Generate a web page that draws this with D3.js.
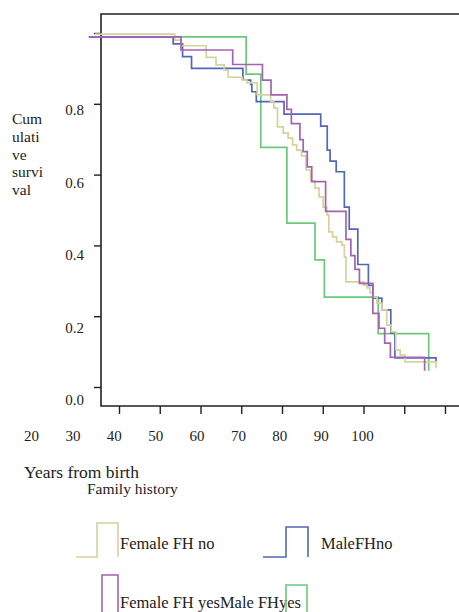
<!DOCTYPE html>
<html>
<head>
<meta charset="utf-8">
<title>Survival</title>
<script src="https://cdn.jsdelivr.net/npm/d3@7"></script>
<style>
  body { margin: 0; background: #fff; }
  svg text { font-family: "Liberation Serif", serif; fill: #222; }
</style>
</head>
<body>
<svg id="chart" width="459" height="612"></svg>
<script>
// data: time (years) and cumulative survival per group
var femaleNoTime = [34.1, 53.7, 55.2, 61.4, 63.8, 65.8, 66.8, 70.2, 71.4, 73.9, 77.2, 78.0, 78.9, 80.3, 81.5, 82.6, 83.6, 84.8, 85.9, 87.0, 88.1, 89.1, 90.1, 91.0, 91.5, 92.4, 93.4, 94.7, 95.3, 95.7, 100.0, 100.8, 101.6, 102.3, 103.3, 104.5, 105.7, 106.8, 107.9, 109.0, 110.2, 117.8];
var femaleNoSurv = [0.997, 0.980, 0.964, 0.931, 0.910, 0.895, 0.875, 0.867, 0.859, 0.825, 0.806, 0.788, 0.735, 0.717, 0.703, 0.684, 0.669, 0.653, 0.613, 0.582, 0.562, 0.537, 0.508, 0.486, 0.438, 0.424, 0.410, 0.401, 0.367, 0.297, 0.288, 0.280, 0.266, 0.254, 0.237, 0.218, 0.175, 0.156, 0.105, 0.090, 0.071, 0.053];

var maleNoTime = [32.6, 53.3, 55.6, 57.8, 70.4, 72.3, 72.6, 73.7, 80.5, 89.5, 91.1, 91.8, 93.3, 95.3, 96.5, 98.6, 101.2, 102.3, 104.5, 106.7, 107.7, 117.8];
var maleNoSurv = [0.989, 0.969, 0.933, 0.900, 0.867, 0.855, 0.834, 0.806, 0.771, 0.737, 0.669, 0.638, 0.608, 0.508, 0.446, 0.346, 0.287, 0.251, 0.218, 0.152, 0.082, 0.071];

var femaleYesTime = [32.6, 55.2, 67.9, 75.2, 77.3, 81.2, 82.3, 84.4, 85.2, 86.2, 87.3, 90.7, 95.7, 96.9, 97.9, 99.0, 102.3, 103.8, 105.2, 106.6, 115.0];
var femaleYesSurv = [0.989, 0.952, 0.911, 0.867, 0.825, 0.784, 0.744, 0.699, 0.665, 0.622, 0.580, 0.496, 0.417, 0.371, 0.332, 0.293, 0.208, 0.166, 0.124, 0.084, 0.046];

var maleYesTime = [32.6, 71.2, 74.8, 81.2, 88.1, 90.4, 103.6, 116.0];
var maleYesSurv = [0.989, 0.884, 0.677, 0.463, 0.359, 0.254, 0.151, 0.046];

var xTickValues = [40, 50, 60, 70, 80, 90, 100, 110, 120];
var xTickLabels = [20, 30, 40, 50, 60, 70, 80, 90, 100];
var yTickValues = [0, 0.2, 0.4, 0.6, 0.8, 1.0];
var yTickLabels = [0, 0.2, 0.4, 0.6, 0.8];

var series = [
  {name: "Male FHyes", time: maleYesTime, surv: maleYesSurv, color: "#6cc879"},
  {name: "MaleFHno", time: maleNoTime, surv: maleNoSurv, color: "#5367b7"},
  {name: "Female FH no", time: femaleNoTime, surv: femaleNoSurv, color: "#d6d29c"},
  {name: "Female FH yes", time: femaleYesTime, surv: femaleYesSurv, color: "#a562b2"}
];

var svg = d3.select("#chart");
var plotLeft = 101, plotTop = 14, plotBottom = 406;

var x = d3.scaleLinear().domain([40, 120]).range([119, 445]);
var y = d3.scaleLinear().domain([0, 1]).range([387, 33]);
// the tick labels in the picture sit on their own, shifted spacing
var xLab = d3.scaleLinear().domain([20, 100]).range([31.5, 362.5]);
var yLab = d3.scaleLinear().domain([0, 0.8]).range([405, 115]);

// frame (open on the right)
svg.append("path")
  .attr("d", "M459," + plotTop + "H" + plotLeft + "V" + plotBottom + "H459")
  .attr("fill", "none").attr("stroke", "#222").attr("stroke-width", 1.6);

// x ticks
svg.append("g")
  .attr("transform", "translate(0," + plotBottom + ")")
  .call(d3.axisBottom(x).tickValues(xTickValues).tickSize(8).tickFormat(""))
  .call(function(g) { g.select(".domain").remove(); })
  .selectAll("line").attr("stroke", "#222").attr("stroke-width", 1.4);

// y ticks
svg.append("g")
  .attr("transform", "translate(" + plotLeft + ",0)")
  .call(d3.axisLeft(y).tickValues(yTickValues).tickSize(7).tickFormat(""))
  .call(function(g) { g.select(".domain").remove(); })
  .selectAll("line").attr("stroke", "#222").attr("stroke-width", 1.4);

svg.append("g").selectAll("text")
  .data(xTickLabels)
  .enter().append("text")
  .attr("x", function(d) { return xLab(d); })
  .attr("y", 441)
  .attr("text-anchor", "middle")
  .attr("font-size", 15)
  .text(function(d) { return d; });

svg.append("g").selectAll("text")
  .data(yTickLabels)
  .enter().append("text")
  .attr("x", 84)
  .attr("y", function(d) { return yLab(d); })
  .attr("text-anchor", "end")
  .attr("font-size", 15)
  .text(function(d) { return d.toFixed(1); });

// y title, broken over lines like the original
var yTitle = ["Cum", "ulati", "ve", "survi", "val"];
svg.append("g").selectAll("text")
  .data(yTitle)
  .enter().append("text")
  .attr("x", 12)
  .attr("y", function(d, i) { return 124 + i * 17.8; })
  .attr("font-size", 15.5)
  .text(function(d) { return d; });

svg.append("text").attr("x", 24).attr("y", 478).attr("font-size", 17.5).text("Years from birth");
svg.append("text").attr("x", 87).attr("y", 494).attr("font-size", 15.5).text("Family history");

// survival step curves
var line = d3.line()
  .curve(d3.curveStepAfter)
  .x(function(d) { return x(d[0]); })
  .y(function(d) { return y(d[1]); });

series.forEach(function(s) {
  svg.append("path")
    .datum(d3.zip(s.time, s.surv))
    .attr("fill", "none")
    .attr("stroke", s.color)
    .attr("stroke-width", 1.7)
    .attr("d", line);
});

// legend
var legend = [
  {label: "Female FH no", color: "#d6d29c", sx: 76, x1: 97, x2: 118, yTop: 523, yBot: 557, tx: 120, ty: 549},
  {label: "MaleFHno", color: "#5367b7", sx: 263, x1: 286, x2: 308, yTop: 527, yBot: 557, tx: 321, ty: 549},
  {label: "Female FH yesMale FHyes", color: "#a562b2", sx: 102, x1: 102, x2: 118, yTop: 575, yBot: 614, tx: 120, ty: 608},
  {label: "", color: "#6cc879", sx: 286, x1: 286, x2: 307, yTop: 585, yBot: 614, tx: 0, ty: 0}
];

legend.forEach(function(l) {
  svg.append("path")
    .attr("d", "M" + l.sx + "," + l.yBot + "H" + l.x1 + "V" + l.yTop + "H" + l.x2 + "V" + l.yBot)
    .attr("fill", "none").attr("stroke", l.color).attr("stroke-width", 1.6);
  if (l.label) {
    svg.append("text").attr("x", l.tx).attr("y", l.ty).attr("font-size", 16.5).text(l.label);
  }
});
</script>
</body>
</html>
